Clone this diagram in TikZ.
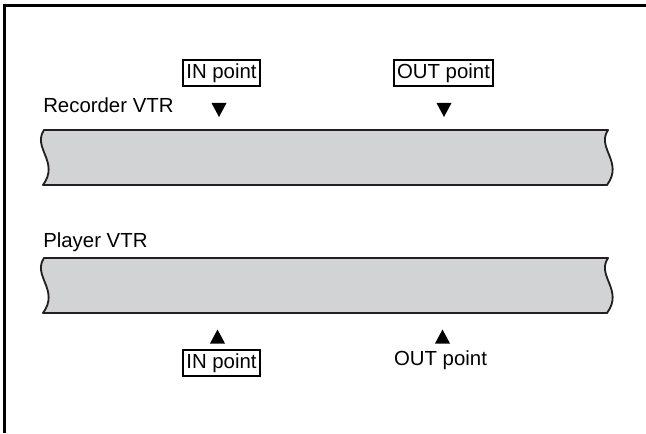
\documentclass[tikz,border=0pt]{standalone}
\usepackage{fontspec}
\setmainfont{Liberation Sans}
\definecolor{tapegray}{HTML}{D2D3D5}
\definecolor{inkblack}{HTML}{231F20}
\tikzset{
  label/.style={inner sep=0pt,anchor=base west},
  pointbox/.style={draw=black,line width=1.3pt,inner xsep=2.4pt,inner ysep=2.7pt,text height=10.5pt,text depth=3pt},
  pointtext/.style={inner sep=0pt,anchor=base},
  tape/.style={fill=tapegray,draw=inkblack,line width=1.3pt,line join=round}
}
\begin{document}
\begin{tikzpicture}[x=0.25cm,y=0.25cm,font=\fontsize{14.5}{17}\selectfont]
\useasboundingbox (0,0) rectangle (64.6,43.3);
% frame, open at right and bottom
\draw[line width=1.6pt] (0.45,0) -- (0.45,42.75) -- (64.6,42.75);
% the two tapes
\foreach \t in {24.8,12.0}
  \draw[tape] (4.4,\t+5.5) -- (60.8,\t+5.5) .. controls (59.6,\t+3.7) and (62.4,\t+2.3) .. (60.7,\t)
    -- (4.3,\t) .. controls (6.0,\t+2.3) and (3.2,\t+3.7) .. (4.4,\t+5.5) -- cycle;
\node[label] (rec) at (4.3,32.0) {Recorder VTR};
\node[label] (play) at (4.3,18.6) {Player VTR};
% recorder points
\node[pointbox] (recIn) at (22.15,36.0) {IN point};
\node[pointbox] (recOut) at (44.35,36.0) {OUT point};
\coordinate (recInMark) at (21.9,32.3);
\coordinate (recOutMark) at (44.4,32.3);
\foreach \m in {recInMark,recOutMark}
  \fill (\m) ++(-0.75,0.7) -- ++(1.5,0) -- ++(-0.75,-1.4) -- cycle;
% player points
\node[pointbox] (playIn) at (22.15,7.0) {IN point};
\node[pointtext] (playOut) at (44.05,6.8) {OUT point};
\coordinate (playInMark) at (21.75,9.65);
\coordinate (playOutMark) at (44.25,9.65);
\foreach \m in {playInMark,playOutMark}
  \fill (\m) ++(-0.75,-0.7) -- ++(1.5,0) -- ++(-0.75,1.4) -- cycle;
\end{tikzpicture}
\end{document}
